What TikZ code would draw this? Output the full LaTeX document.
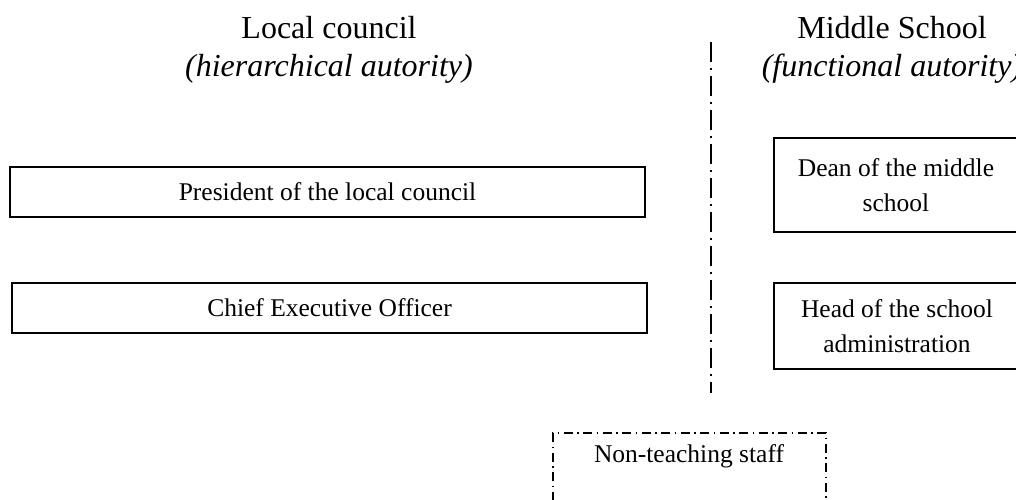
\documentclass[tikz,border=0pt]{standalone}
\usepackage{fontspec}
\setmainfont{Liberation Serif}
\begin{document}
\begin{tikzpicture}[x=1pt,y=-1pt,
  boxtxt/.style={font=\fontsize{25.5}{35}\selectfont, align=center},
  titletxt/.style={font=\fontsize{32}{38}\selectfont, align=center},
  solidbox/.style={draw, line width=1.4pt},
  divider/.style={line width=1.8pt, dash pattern=on 20pt off 6pt on 2pt off 6pt},
  dotbox/.style={draw, line width=1.2pt, dash pattern=on 9pt off 4.5pt on 1.5pt off 4.5pt}]
\useasboundingbox (0,0) rectangle (1016,499);
% titles
\node[titletxt] (lc) at (329,50) {Local council\\\textit{(hierarchical autority)}};
\node[titletxt] (ms) at (892,50) {Middle School\\\textit{(functional autority)}};
% left boxes
\draw[solidbox] (10,167) rectangle (645,217);
\node[boxtxt] (pres) at (327.5,192) {President of the local council};
\draw[solidbox] (12,283) rectangle (647,333);
\node[boxtxt] (ceo) at (329.5,308) {Chief Executive Officer};
% right boxes
\draw[solidbox] (774,138) rectangle (1022,232);
\node[boxtxt] (dean) at (896,185) {Dean of the middle\\school};
\draw[solidbox] (774,283) rectangle (1022,369);
\node[boxtxt] (head) at (897,326) {Head of the school\\administration};
% divider
\coordinate (dtop) at (711,42);
\coordinate (dbot) at (711,393);
\draw[divider] (dtop) -- (dbot);
% non-teaching
\draw[dotbox] (553,520) -- (553,433) -- (826,433) -- (826,520);
\node[boxtxt] (nts) at (689,456) {Non-teaching staff};
\end{tikzpicture}
\end{document}
